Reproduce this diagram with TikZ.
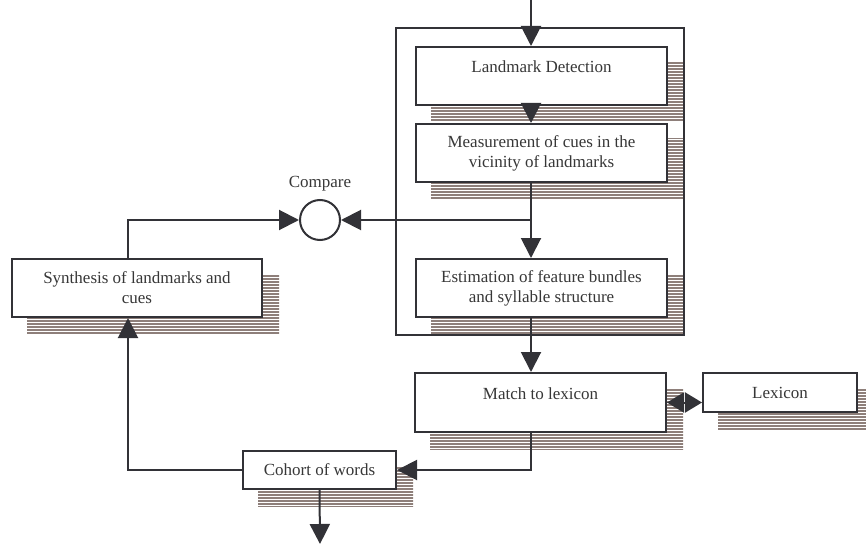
\documentclass[tikz,border=0pt]{standalone}
\usepackage{fontspec}
\setmainfont{Liberation Serif}
\usetikzlibrary{positioning, backgrounds, calc, arrows.meta}
\definecolor{linie}{RGB}{50,50,55}
\definecolor{textgrau}{RGB}{55,55,55}
\definecolor{streifen}{RGB}{142,127,122}
\tikzset{beschriftung/.style={font=\fontsize{8.5}{10}\selectfont, text=textgrau},
	kasten/.style={rectangle,draw=linie,line width=1pt,fill=white,beschriftung,
		align=center, minimum width=125.5pt, minimum height=29pt, inner sep=2pt},
	oben/.style={text height=6pt, text depth=9pt},
	kreis/.style={circle,draw=linie,line width=1pt,fill=white,minimum size=20pt,inner sep=0},
	pfeil/.style={draw=linie,line width=1pt,-{Triangle[length=10pt,width=10pt]}},
	kurzpfeil/.style={draw=linie,line width=1pt,-{Triangle[length=8.5pt,width=10pt]}},
	schatten/.style={draw=streifen,line width=1pt} }
% gestreifter Schatten unter einem Kasten
\newcommand{\schattenbox}[1]{
  \begin{scope}
    \clip ($(#1.south west)+(8pt,-8pt)$) rectangle ($(#1.north east)+(8pt,-8pt)$);
    \foreach \y in {0,3,...,546} \draw[schatten] (0,\y) -- (866,\y);
  \end{scope}}

\begin{document}
\begin{tikzpicture}[x=0.5pt,y=-0.5pt]
  \useasboundingbox (0,0) rectangle (866,545);

  \node (rahmen) [rectangle,draw=linie,line width=1pt,minimum width=144pt,minimum height=153.5pt,inner sep=0] at (540,181.5) {};

  \node (ld) [kasten,oben] at (541.5,76) {Landmark Detection};
  \node (mc) [kasten] at (541.5,153) {Measurement of cues in the\\vicinity of landmarks};
  \node (ef) [kasten] at (541.5,288) {Estimation of feature bundles\\and syllable structure};
  \node (ml) [kasten,oben,minimum height=29.5pt] at (540.5,402.5) {Match to lexicon};
  \node (lex) [kasten,minimum width=77pt,minimum height=19.5pt] at (780,392.5) {Lexicon};
  \node (coh) [kasten,minimum width=76.5pt,minimum height=19pt] at (319.5,470) {Cohort of words};
  \node (syn) [kasten,minimum width=125pt] at (137,288) {Synthesis of landmarks and\\cues};
  \node (cmp) [kreis] at (320,220) {};
  \node (cmptext) [beschriftung, above=0.5pt of cmp] {Compare};

  \coordinate (eingang) at (531,0);
  \coordinate (links) at (128,0);
  \coordinate (ausgang) at (320,544);
  \coordinate (mitte) at ($(ml.east)!0.5!(lex.west |- ml.east)$);

  \draw[pfeil] (eingang) -- (eingang |- ld.north);
  \draw[pfeil] (eingang |- ld.south) -- (eingang |- mc.north);
  \draw[pfeil] (eingang |- mc.south) -- (eingang |- ef.north);
  \draw[pfeil] (eingang |- cmp) -- (cmp.east);
  \draw[pfeil] (eingang |- ef.south) -- (eingang |- ml.north);
  \draw[kurzpfeil] (mitte) -- (mitte -| ml.east);
  \draw[kurzpfeil] (mitte) -- (mitte -| lex.west);
  \draw[pfeil] (eingang |- ml.south) |- (coh.east);
  \draw[pfeil] (coh.west) -| (links |- syn.south);
  \draw[pfeil] (links |- syn.north) |- (cmp.west);
  \draw[pfeil] (coh.south) -- (ausgang);

  \begin{pgfonlayer}{background}
    \schattenbox{ld}
    \schattenbox{mc}
    \schattenbox{ef}
    \schattenbox{ml}
    \schattenbox{lex}
    \schattenbox{coh}
    \schattenbox{syn}
  \end{pgfonlayer}
\end{tikzpicture}
\end{document}
